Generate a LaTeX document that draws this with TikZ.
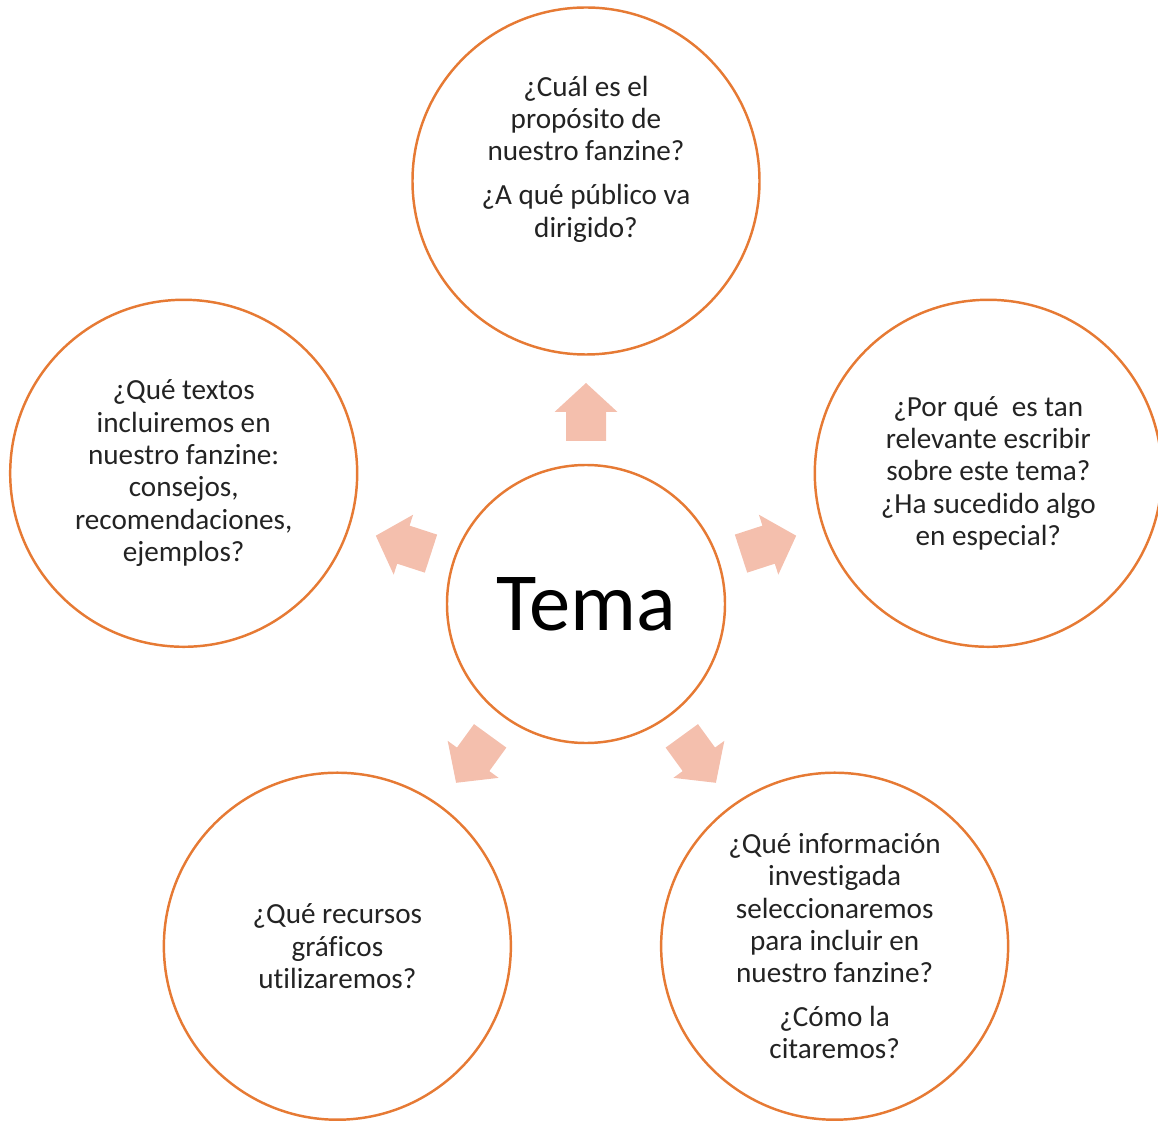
\documentclass[tikz,border=0pt]{standalone}
\usepackage{fontspec}
\setmainfont[Ligatures=NoCommon]{Carlito}
\usetikzlibrary{positioning}
\definecolor{CircleOrange}{RGB}{230,122,52}
\definecolor{ArrowPeach}{RGB}{244,191,173}
\definecolor{TextDark}{RGB}{35,35,35}
\tikzset{
  idea/.style={circle, draw=CircleOrange, line width=1.4pt, minimum size=6.94cm,
    inner sep=0pt, align=center, text=TextDark, font=\fontsize{16.6}{18.4}\selectfont},
  ideatext/.style={align=center, text=TextDark, font=\fontsize{16.6}{18.4}\selectfont},
  hub/.style={circle, draw=CircleOrange, line width=1.4pt, minimum size=5.56cm,
    inner sep=0pt, text=black, font=\fontsize{47}{56}\selectfont},
  pointer/.style={fill=ArrowPeach}
}

\begin{document}
\begin{tikzpicture}
  \useasboundingbox (-11.72,-10.32) rectangle (11.44,12.08);

  % centre
  \node[hub] (tema) at (0,0) {Tema};

  % questions round it
  \node[idea] (proposito) at (90:8.46) {};
  \node[ideatext] (propositotext) at ([yshift=0.44cm]proposito.center)
    {¿Cuál es el\\ propósito de\\ nuestro fanzine?\\[6.6pt]
     ¿A qué público va\\ dirigido?};
  \node[idea] (relevancia) at (18:8.46)
    {¿Por qué\ \ es tan\\ relevante escribir\\ sobre este tema?\\
     ¿Ha sucedido algo\\ en especial?};
  \node[idea] (informacion) at (306:8.46)
    {¿Qué información\\ investigada\\ seleccionaremos\\ para incluir en\\
     nuestro fanzine?\\[6.6pt] ¿Cómo la\\ citaremos?};
  \node[idea] (recursos) at (234:8.46)
    {¿Qué recursos\\ gráficos\\ utilizaremos?};
  \node[idea] (textos) at (162:8.46)
    {¿Qué textos\\ incluiremos en\\ nuestro fanzine:\\ consejos,\\
     recomendaciones,\\ ejemplos?};

  % block arrows pointing outwards
  \foreach \ang in {90,18,162,234,306} {
    \fill[pointer, shift={(\ang:3.84)}, rotate=\ang]
      (-0.58,-0.4) -- (0,-0.4) -- (0,-0.63) -- (0.58,0)
      -- (0,0.63) -- (0,0.4) -- (-0.58,0.4) -- cycle;
  }
\end{tikzpicture}
\end{document}
